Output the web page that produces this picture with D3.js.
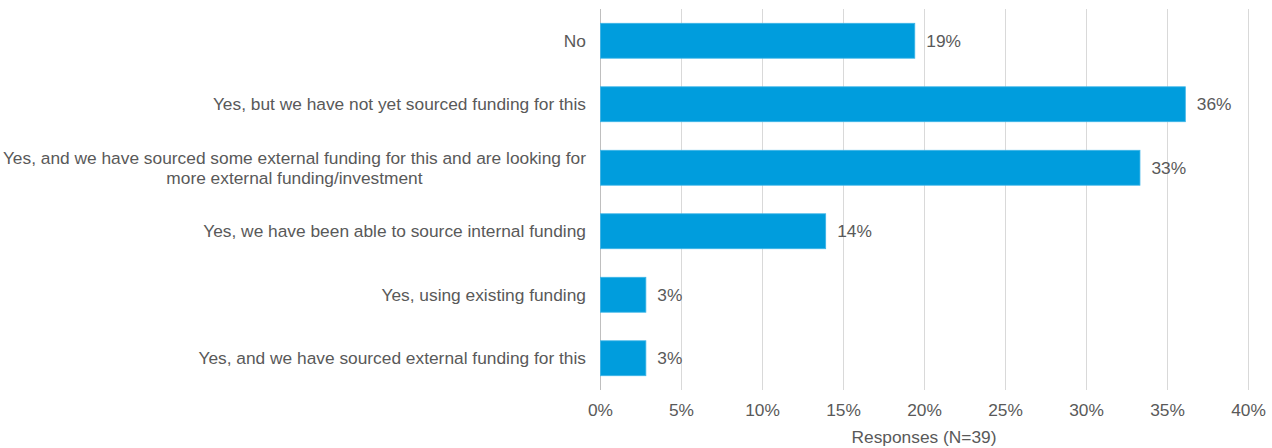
<!DOCTYPE html>
<html>
<head>
<meta charset="utf-8">
<script src="https://cdn.jsdelivr.net/npm/d3@7"></script>
<style>
  html, body { margin: 0; padding: 0; background: #fff; }
  svg { display: block; font-family: "Liberation Sans", Arial, sans-serif; }
</style>
</head>
<body>
<svg id="chart" width="1272" height="448"></svg>
<script>
// Survey answers, top to bottom
const categories = [
  "No",
  "Yes, but we have not yet sourced funding for this",
  "Yes, and we have sourced some external funding for this and are looking for\nmore external funding/investment",
  "Yes, we have been able to source internal funding",
  "Yes, using existing funding",
  "Yes, and we have sourced external funding for this"
];
// Share of responses (%)
const shares = [19.4, 36.1, 33.3, 13.9, 2.8, 2.8];
// X axis ticks (%)
const xTicks = [0, 5, 10, 15, 20, 25, 30, 35, 40];
const xTitle = "Responses (N=39)";

const svg = d3.select("#chart");
const textColor = "#595959";
const barColor = "#009ddd";
const fontSize = 17.33;

const x = d3.scaleLinear().domain([0, 40]).range([600, 1248]);
const y = d3.scaleBand().domain(categories).range([9, 390]).paddingInner(0.45).paddingOuter(0.225);

// vertical gridlines
svg.append("g").selectAll("line")
  .data(xTicks)
  .join("line")
  .attr("x1", d => x(d) + 0.5).attr("x2", d => x(d) + 0.5)
  .attr("y1", 9).attr("y2", 390)
  .attr("stroke", d => d === 0 ? "#bfbfbf" : "#d9d9d9")
  .attr("stroke-width", 1);

// x axis tick labels
const xAxis = d3.axisBottom(x).tickValues(xTicks).tickFormat(d => d + "%").tickSize(0).tickPadding(0);
const gx = svg.append("g").attr("transform", "translate(0,410)").call(xAxis);
gx.select(".domain").remove();
gx.selectAll("text")
  .attr("fill", textColor)
  .attr("font-size", fontSize)
  .attr("y", 0)
  .attr("dy", "0.35em")
  .attr("font-family", "'Liberation Sans', Arial, sans-serif");

// axis title
svg.append("text")
  .attr("x", x(20))
  .attr("y", 437)
  .attr("dy", "0.35em")
  .attr("text-anchor", "middle")
  .attr("fill", textColor)
  .attr("font-size", fontSize)
  .text(xTitle);

// bars
svg.append("g").selectAll("rect")
  .data(categories)
  .join("rect")
  .attr("x", x(0) + 0.5)
  .attr("y", d => y(d))
  .attr("width", (d, i) => x(shares[i]) - x(0))
  .attr("height", y.bandwidth())
  .attr("fill", barColor)
  .attr("stroke", "#3db5e8")
  .attr("stroke-width", 0.8);

// value labels
svg.append("g").selectAll("text")
  .data(categories)
  .join("text")
  .attr("x", (d, i) => x(shares[i]) + 12)
  .attr("y", d => y(d) + y.bandwidth() / 2)
  .attr("dy", "0.35em")
  .attr("fill", textColor)
  .attr("font-size", fontSize)
  .text((d, i) => Math.round(shares[i]) + "%");

// category labels: right-aligned block, multi-line entries centred within their block
const labelRight = 586;
const lineH = 20;
categories.forEach(cat => {
  const lines = cat.split("\n");
  const cy = y(cat) + y.bandwidth() / 2;
  const g = svg.append("g");
  const texts = lines.map((ln, j) => g.append("text")
    .attr("y", cy + (j - (lines.length - 1) / 2) * lineH)
    .attr("dy", "0.35em")
    .attr("fill", textColor)
    .attr("font-size", fontSize)
    .text(ln));
  if (lines.length === 1) {
    texts[0].attr("x", labelRight).attr("text-anchor", "end");
  } else {
    const w = d3.max(texts, t => t.node().getComputedTextLength());
    texts.forEach(t => t.attr("x", labelRight - w / 2).attr("text-anchor", "middle"));
  }
});
</script>
</body>
</html>
